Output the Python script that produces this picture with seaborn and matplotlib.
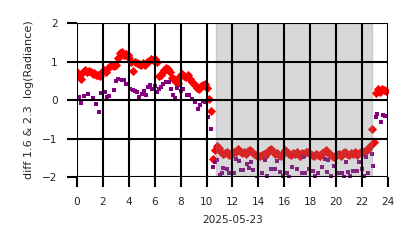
import numpy as np
import pandas as pd
import matplotlib
matplotlib.use("Agg")
import matplotlib.pyplot as plt
import seaborn as sns

# red series (diamonds): sampled every 0.15 h starting at 0 h
red_step = 0.15
red_vals = [
    0.72, 0.62, 0.55, 0.74, 0.78, 0.72, 0.76, 0.74, 0.68, 0.70,
    0.66, 0.64, 0.62, 0.72, 0.78, 0.74, 0.82, 0.88, 0.90, 0.88,
    0.92, 1.10, 1.22, 1.26, 1.18, 1.20, 1.16, 1.10, 1.00, 0.75,
    1.00, 0.96, 0.94, 0.92, 0.96, 0.90, 1.00, 1.02, 1.06, 1.04,
    1.06, 1.00, 0.62, 0.66, 0.74, 0.78, 0.82, 0.80, 0.72, 0.58,
    0.55, 0.48, 0.44, 0.62, 0.68, 0.62, 0.60, 0.64, 0.56, 0.48,
    0.42, 0.36, 0.32, 0.28, 0.36, 0.40, 0.42, 0.32, 0.02, -0.28,
    -1.52, -1.30, -1.18, -1.25, -1.35, -1.40, -1.38, -1.36, -1.42, -1.38,
    -1.40, -1.36, -1.34, -1.28, -1.32, -1.38, -1.36, -1.40, -1.33, -1.30,
    -1.36, -1.40, -1.42, -1.44, -1.46, -1.42, -1.40, -1.44, -1.38, -1.30,
    -1.28, -1.32, -1.40, -1.38, -1.42, -1.44, -1.38, -1.30, -1.36, -1.40,
    -1.42, -1.38, -1.40, -1.36, -1.42, -1.44, -1.38, -1.40, -1.36, -1.34,
    -1.40, -1.42, -1.44, -1.40, -1.42, -1.45, -1.38, -1.36, -1.30, -1.38,
    -1.40, -1.46, -1.48, -1.44, -1.42, -1.40, -1.44, -1.38, -1.36, -1.40,
    -1.42, -1.38, -1.40, -1.36, -1.42, -1.38, -1.34, -1.36, -1.32, -1.30,
    -1.26, -1.18, -0.75, -1.08, 0.18, 0.28, 0.22, 0.30, 0.26, 0.24,
]
red_hours = [round(i * red_step, 2) for i in range(len(red_vals))]

# purple series (squares)
purple_hours = [
    0.15, 0.30, 0.57, 0.85, 1.20, 1.47, 1.70, 1.83, 2.18, 2.30,
    2.50, 2.85, 3.00, 3.16, 3.45, 3.65, 3.80, 4.07, 4.30, 4.48,
    4.63, 4.78, 5.00, 5.17, 5.30, 5.50, 5.63, 5.80, 6.00, 6.17,
    6.33, 6.50, 6.66, 6.87, 7.07, 7.25, 7.40, 7.60, 7.75, 8.00,
    8.20, 8.47, 8.67, 8.85, 9.10, 9.34, 9.50, 9.70, 9.87, 10.13,
    10.34, 10.50, 10.62, 10.80, 11.00, 11.16, 11.24, 11.55, 11.75, 12.10,
    12.27, 12.50, 12.65, 12.83, 13.10, 13.27, 13.40, 13.60, 13.90, 14.25,
    14.50, 14.70, 14.97, 15.28, 15.40, 15.66, 15.90, 16.20, 16.40, 16.60,
    17.00, 17.33, 17.45, 17.60, 17.93, 18.24, 18.40, 18.57, 18.88, 19.14,
    19.27, 19.40, 19.60, 19.80, 20.17, 20.43, 20.60, 20.76, 20.93, 21.10,
    21.27, 21.58, 21.78, 21.97, 22.15, 22.28, 22.48, 22.74, 22.87, 23.07,
    23.17, 23.46, 23.60, 23.76,
]
purple_vals = [
    0.09, -0.07, 0.10, 0.15, 0.06, -0.11, -0.30, 0.19, 0.21, 0.07,
    0.10, 0.26, 0.50, 0.55, 0.52, 0.51, 0.43, 0.29, 0.26, 0.23,
    0.21, 0.09, 0.16, 0.24, 0.14, 0.33, 0.38, 0.29, 0.36, 0.20,
    0.29, 0.33, 0.43, 0.47, 0.47, 0.28, 0.13, 0.06, 0.32, 0.23,
    0.28, 0.13, 0.14, 0.04, -0.04, -0.24, -0.14, -0.03, -0.05, -0.45,
    -0.74, -1.73, -1.62, -1.56, -1.95, -1.90, -1.76, -1.78, -1.89, -1.89,
    -1.54, -1.58, -1.82, -1.82, -1.66, -1.77, -1.62, -1.82, -2.02, -1.90,
    -1.56, -1.98, -1.78, -1.80, -1.58, -1.86, -1.97, -1.89, -2.00, -1.75,
    -1.80, -1.90, -1.49, -1.89, -1.80, -1.84, -1.98, -1.89, -1.73, -1.54,
    -1.86, -1.56, -1.97, -1.71, -1.89, -1.90, -1.99, -1.60, -1.86, -1.98,
    -1.84, -1.84, -1.60, -1.78, -1.97, -1.47, -1.90, -1.41, -1.71, -0.43,
    -0.35, -0.56, -0.39, -0.42,
]

night_start, night_end = 10.7, 22.77
x_ticks = [0, 2, 4, 6, 8, 10, 12, 14, 16, 18, 20, 22, 24]
y_ticks = [-2, -1, 0, 1, 2]

sns.set_theme(style="white")
plt.rcParams['font.family'] = ['DejaVu Sans']

fig = plt.figure(figsize=(4.14, 2.48), dpi=100)
ax = fig.add_axes([0.186, 0.286, 0.751, 0.621])

red_df = pd.DataFrame({"hour": red_hours, "val": red_vals})
pur_df = pd.DataFrame({"hour": purple_hours, "val": purple_vals})

sns.scatterplot(data=red_df, x="hour", y="val", marker="D", color="red",
                s=22, linewidth=0, ax=ax, zorder=1)
sns.scatterplot(data=pur_df, x="hour", y="val", marker="s", color="purple",
                s=10, linewidth=0, ax=ax, zorder=1)

ax.axvspan(night_start, night_end, color="gray", alpha=0.3, zorder=2)

ax.set_xlim(0, 24)
ax.set_ylim(-2, 2)
ax.set_xticks(x_ticks)
ax.set_yticks(y_ticks)
ax.set_axisbelow(False)
ax.grid(True, color="black", linewidth=1.5)
for s in ax.spines.values():
    s.set_visible(False)
ax.tick_params(axis="both", which="major", direction="out", length=7,
               width=1.5, color="black", labelsize=7.6, labelcolor="#262626",
               pad=7, bottom=True, left=True)
ax.set_xlabel("2025-05-23", fontsize=7.6, color="#262626", labelpad=6)
ax.set_ylabel("diff 1.6 & 2.3  log(Radiance)", fontsize=8.1, color="#262626",
              labelpad=6)

fig.savefig("out.png", dpi=100)
